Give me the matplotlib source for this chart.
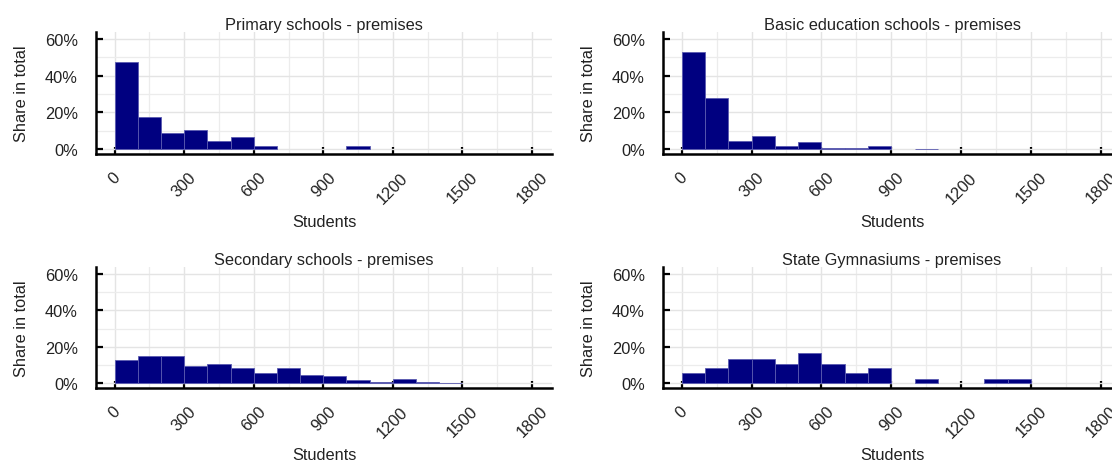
import matplotlib.pyplot as plt
from matplotlib.ticker import MultipleLocator, PercentFormatter

plt.rcParams['font.family'] = ['Liberation Sans', 'DejaVu Sans']

# left edges of the 100-student bins
bin_starts = [0, 100, 200, 300, 400, 500, 600, 700, 800, 900,
              1000, 1100, 1200, 1300, 1400]
bin_width = 100

titles = ["Primary schools - premises",
          "Basic education schools - premises",
          "Secondary schools - premises",
          "State Gymnasiums - premises"]

# share of schools per bin, in percent
primary = [47.6, 17.3, 8.5, 10.5, 4.2, 6.5, 1.8, 0, 0, 0,
           1.8, 0, 0, 0, 0]
basic = [52.7, 28.0, 4.4, 6.9, 1.8, 3.6, 0.4, 0.4, 1.6, 0,
         0.2, 0, 0, 0, 0]
secondary = [12.7, 15.1, 15.1, 9.6, 10.5, 8.5, 5.8, 8.2, 4.7, 4.0,
             1.6, 0.7, 2.5, 0.7, 0.2]
gymnasium = [5.3, 8.2, 13.3, 13.3, 10.5, 16.4, 10.5, 5.3, 8.2, 0,
             2.5, 0, 0, 2.5, 2.5]

x_ticks = [0, 300, 600, 900, 1200, 1500, 1800]

W, H = 1112, 464
fig = plt.figure(figsize=(W / 100, H / 100), dpi=100)

# axes boxes in pixels: left, right, top, bottom
boxes = [(96, 552, 33, 155), (663, 1121, 33, 155),
         (96, 552, 268, 389), (663, 1121, 268, 389)]

for box, title, vals in zip(boxes, titles, [primary, basic, secondary, gymnasium]):
    l, r, t, b = box
    ax = fig.add_axes([l / W, 1 - b / H, (r - l) / W, (b - t) / H])
    ax.set_axisbelow(True)
    nz = [(s, v) for s, v in zip(bin_starts, vals) if v > 0]
    ax.bar([s for s, v in nz], [v for s, v in nz], width=bin_width, align='edge',
           color='#000080', edgecolor='#5a5ab0', linewidth=0.6)
    ax.set_xlim(-80, 1886)
    ax.set_ylim(-2.7, 63.8)
    ax.set_xticks(x_ticks)
    ax.xaxis.set_minor_locator(MultipleLocator(150))
    ax.yaxis.set_major_locator(MultipleLocator(20))
    ax.yaxis.set_minor_locator(MultipleLocator(10))
    ax.yaxis.set_major_formatter(PercentFormatter(decimals=0))
    ax.grid(True, which='major', color='#e4e4e4', linewidth=1.0)
    ax.grid(True, which='minor', color='#ececec', linewidth=0.9)
    for side in ['top', 'right']:
        ax.spines[side].set_visible(False)
    for side in ['left', 'bottom']:
        ax.spines[side].set_linewidth(1.8)
        ax.spines[side].set_color('black')
    ax.tick_params(which='major', direction='in', length=5, width=1.6,
                   labelsize=11.8, labelcolor='#222222')
    ax.tick_params(which='minor', length=0)
    ax.tick_params(axis='x', pad=11)
    ax.tick_params(axis='y', pad=13)
    for lab in ax.get_xticklabels():
        lab.set_rotation(45)
        lab.set_ha('center')
        lab.set_va('top')
    ax.set_title(title, fontsize=11.8, color='#222222', pad=2)
    ax.set_ylabel("Share in total", fontsize=11.8, color='#222222')
    ax.yaxis.set_label_coords(-0.147, 0.5)
    ax.set_xlabel("Students", fontsize=11.8, color='#222222', va='center')
    ax.xaxis.set_label_coords(0.5, -0.55)

fig.savefig("out.png", dpi=100)
